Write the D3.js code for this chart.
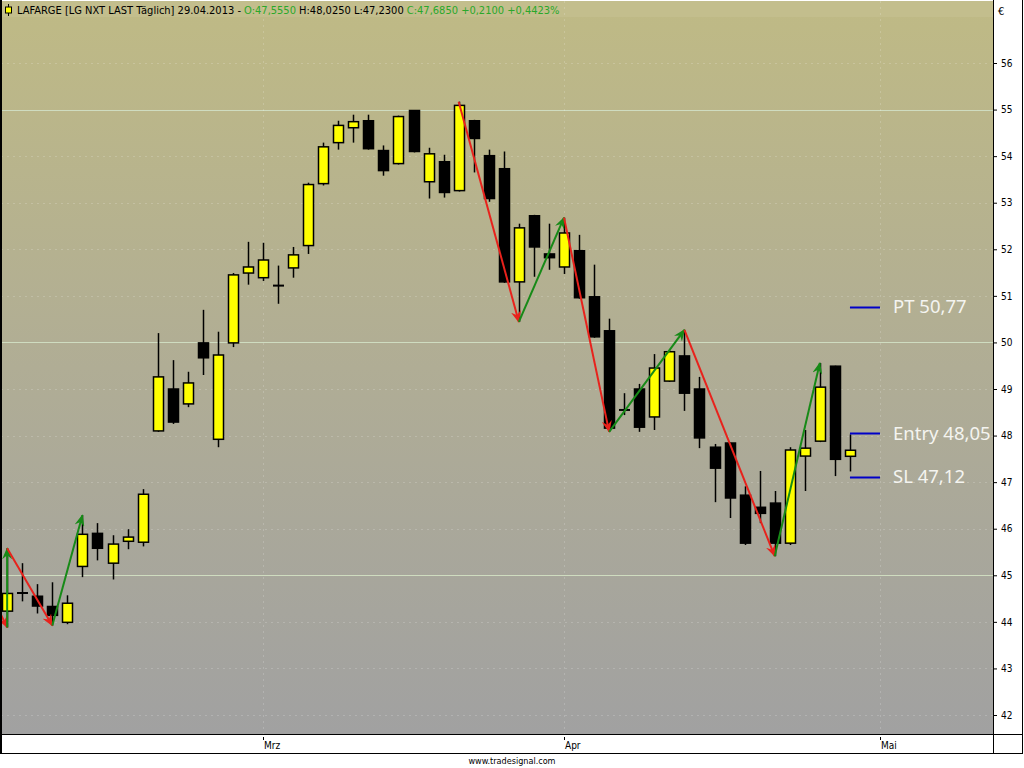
<!DOCTYPE html>
<html>
<head>
<meta charset="utf-8">
<script src="https://cdn.jsdelivr.net/npm/d3@7"></script>
<style>
  body { margin: 0; background: #ffffff; }
  svg { display: block; }
</style>
</head>
<body>
<div id="chart"></div>
<script>
// LAFARGE daily candles, 06.02.2013 - 29.04.2013
var dates = ["06.02","07.02","08.02","11.02","12.02","13.02","14.02","15.02","18.02","19.02",
  "20.02","21.02","22.02","25.02","26.02","27.02","28.02","01.03","04.03","05.03",
  "06.03","07.03","08.03","11.03","12.03","13.03","14.03","15.03","18.03","19.03",
  "20.03","21.03","22.03","25.03","26.03","27.03","28.03","02.04","03.04","04.04",
  "05.04","08.04","09.04","10.04","11.04","12.04","15.04","16.04","17.04","18.04",
  "19.04","22.04","23.04","24.04","25.04","26.04","29.04"];

var open  = [44.23,44.63,44.55,44.33,43.99,45.19,45.90,45.26,45.73,45.71,
  48.10,49.00,48.68,49.99,47.92,49.99,51.49,51.39,51.23,51.60,
  52.08,53.41,54.29,54.61,54.76,54.12,53.84,54.98,53.45,53.88,
  53.26,54.76,54.01,53.73,51.30,52.72,51.90,51.62,51.97,50.98,
  50.25,48.56,49.00,48.40,49.17,49.71,49.00,47.75,47.84,46.72,
  46.46,46.55,45.69,47.56,47.88,49.49,47.555];
var high  = [45.58,45.26,44.81,44.85,44.57,46.29,46.12,45.86,45.99,46.85,
  50.20,49.62,49.37,50.70,50.23,51.49,52.16,52.14,51.65,52.05,
  53.43,54.29,54.76,54.89,54.89,54.23,54.87,54.99,54.18,54.03,
  55.17,54.78,54.14,54.10,52.55,52.74,52.55,52.68,52.31,51.67,
  50.51,48.91,49.11,49.75,49.84,50.27,49.26,47.82,47.85,46.91,
  47.24,46.81,47.75,48.12,49.56,49.50,48.025];
var low   = [43.88,44.44,44.18,43.92,43.95,44.96,45.32,44.91,45.56,45.62,
  48.08,48.25,48.61,49.30,47.75,49.90,51.24,51.32,50.83,51.39,
  51.90,53.37,54.14,54.29,54.14,53.58,53.82,54.08,53.09,53.11,
  53.24,53.65,53.02,51.28,50.44,51.41,51.56,51.47,50.94,50.10,
  48.08,48.44,48.08,48.12,49.15,48.53,47.73,46.57,46.23,45.65,
  46.12,45.41,45.65,46.81,47.86,47.13,47.23];
var close = [44.61,44.61,44.34,44.14,44.40,45.88,45.58,45.67,45.82,46.74,
  49.26,48.29,49.13,49.67,49.73,51.45,51.62,51.77,51.21,51.88,
  53.39,54.20,54.66,54.74,54.16,53.69,54.85,54.10,54.05,53.22,
  55.09,54.38,53.09,51.30,52.46,52.05,51.82,52.35,50.96,50.12,
  48.16,48.54,48.18,49.45,49.80,48.91,47.95,47.30,46.66,45.69,
  46.33,45.69,47.69,47.73,49.04,47.49,47.685];

// zigzag swing points: [bar index, price]; one array per drawn run
var zigzagA = [[-1,44.55],[0,43.88],[0,45.58],[3,43.92],[5,46.29]];
var zigzagB = [[30,55.17],[34,50.44],[37,52.68],[40,48.08],[45,50.27],[51,45.41],[54,49.56]];

// trade levels
var levelNames  = ["PT","Entry","SL"];
var levelValues = [50.77,48.05,47.12];

var priceTicks = [42,43,44,45,46,47,48,49,50,51,52,53,54,55,56];
var majorTicks = [45,50,55];
var monthLabels = ["Mrz","Apr","Mai"];
var monthIndex  = [17,37,58];   // first trading day of each month (Mai = 02.05)

var W = 1024, H = 768;
var plot = { left: 1, right: 993, top: 1, bottom: 734 };

var svg = d3.select("#chart").append("svg")
  .attr("width", W).attr("height", H)
  .style("font-family", "Tahoma, 'DejaVu Sans', sans-serif");

var defs = svg.append("defs");
var grad = defs.append("linearGradient").attr("id", "bg")
  .attr("x1", 0).attr("y1", 0).attr("x2", 0).attr("y2", 1);
grad.append("stop").attr("offset", "0%").attr("stop-color", "#bfba85");
grad.append("stop").attr("offset", "50%").attr("stop-color", "#b0ad95");
grad.append("stop").attr("offset", "100%").attr("stop-color", "#a1a1a1");

defs.append("clipPath").attr("id", "clip").append("rect")
  .attr("x", plot.left).attr("y", plot.top)
  .attr("width", plot.right - plot.left).attr("height", plot.bottom - plot.top);

function marker(id, col) {
  defs.append("marker").attr("id", id)
    .attr("viewBox", "0 0 12 10").attr("refX", 11).attr("refY", 5)
    .attr("markerWidth", 12).attr("markerHeight", 10)
    .attr("markerUnits", "userSpaceOnUse").attr("orient", "auto")
    .append("path").attr("d", "M0,0 L12,5 L0,10 L4,5 Z").attr("fill", col);
}
marker("arrUp", "#178a17");
marker("arrDn", "#e8221c");

var x = d3.scaleLinear().domain([0, 56]).range([7.15, 7.15 + 56 * 15.05]);
var y = d3.scaleLinear().domain([42, 56]).range([715, 63]);

// background
svg.append("rect").attr("x", 0).attr("y", 0).attr("width", W).attr("height", H).attr("fill", "#ffffff");
svg.append("rect").attr("x", plot.left).attr("y", plot.top)
  .attr("width", plot.right - plot.left).attr("height", plot.bottom - plot.top)
  .attr("fill", "url(#bg)");
svg.append("rect").attr("x", plot.left).attr("y", plot.top)
  .attr("width", plot.right - plot.left).attr("height", 16)
  .attr("fill", "#c6c192").attr("opacity", 0.6);

var g = svg.append("g").attr("clip-path", "url(#clip)");

// grid
g.selectAll(".hgrid").data(priceTicks).enter().append("line")
  .attr("x1", plot.left).attr("x2", plot.right)
  .attr("y1", function(d) { return Math.round(y(d)) + 0.5; })
  .attr("y2", function(d) { return Math.round(y(d)) + 0.5; })
  .attr("stroke", function(d) { return majorTicks.indexOf(d) >= 0 ? "#cfdcc0" : "#ffffff"; })
  .attr("stroke-opacity", function(d) { return majorTicks.indexOf(d) >= 0 ? 1 : 0.18; })
  .attr("stroke-width", 1)
  .attr("stroke-dasharray", function(d) { return majorTicks.indexOf(d) >= 0 ? null : "2,4"; });

g.selectAll(".vgrid").data(monthIndex).enter().append("line")
  .attr("x1", function(d) { return Math.round(x(d)) + 0.5; })
  .attr("x2", function(d) { return Math.round(x(d)) + 0.5; })
  .attr("y1", plot.top).attr("y2", plot.bottom)
  .attr("stroke", "#ffffff").attr("stroke-opacity", 0.18).attr("stroke-dasharray", "2,4");

// candles
var bars = d3.range(dates.length);
var bw = 10;

g.selectAll(".wick").data(bars).enter().append("line")
  .attr("x1", function(i) { return Math.round(x(i)) + 0.5; })
  .attr("x2", function(i) { return Math.round(x(i)) + 0.5; })
  .attr("y1", function(i) { return y(high[i]); })
  .attr("y2", function(i) { return y(low[i]); })
  .attr("stroke", "#000").attr("stroke-width", 1.5);

g.selectAll(".body").data(bars.filter(function(i) { return Math.abs(open[i] - close[i]) > 0.03; }))
  .enter().append("rect")
  .attr("x", function(i) { return Math.round(x(i)) - bw / 2 + 0.5; })
  .attr("y", function(i) { return y(Math.max(open[i], close[i])); })
  .attr("width", bw)
  .attr("height", function(i) { return Math.abs(y(open[i]) - y(close[i])); })
  .attr("fill", function(i) { return close[i] >= open[i] ? "#ffff00" : "#000000"; })
  .attr("stroke", "#000").attr("stroke-width", 1.5);

g.selectAll(".doji").data(bars.filter(function(i) { return Math.abs(open[i] - close[i]) <= 0.03; }))
  .enter().append("line")
  .attr("x1", function(i) { return Math.round(x(i)) - bw / 2; })
  .attr("x2", function(i) { return Math.round(x(i)) + bw / 2 + 1; })
  .attr("y1", function(i) { return y((open[i] + close[i]) / 2); })
  .attr("y2", function(i) { return y((open[i] + close[i]) / 2); })
  .attr("stroke", "#000").attr("stroke-width", 2);

// zigzag arrows
function legs(pts) {
  var out = [];
  for (var k = 1; k < pts.length; k++) out.push([pts[k - 1], pts[k]]);
  return out;
}
var allLegs = legs(zigzagA).concat(legs(zigzagB));
g.selectAll(".leg").data(allLegs).enter().append("line")
  .attr("x1", function(d) { return x(d[0][0]); })
  .attr("y1", function(d) { return y(d[0][1]); })
  .attr("x2", function(d) { return x(d[1][0]); })
  .attr("y2", function(d) { return y(d[1][1]); })
  .attr("stroke", function(d) { return d[1][1] > d[0][1] ? "#178a17" : "#e8221c"; })
  .attr("stroke-width", 2)
  .attr("marker-end", function(d) { return d[1][1] > d[0][1] ? "url(#arrUp)" : "url(#arrDn)"; });

// trade levels
var last = dates.length - 1;
g.selectAll(".lvl").data(levelValues).enter().append("line")
  .attr("x1", x(last)).attr("x2", x(last + 2))
  .attr("y1", function(d) { return Math.round(y(d)) + 0.5; })
  .attr("y2", function(d) { return Math.round(y(d)) + 0.5; })
  .attr("stroke", "#0000c8").attr("stroke-width", 2);

g.selectAll(".lvlTxt").data(levelValues).enter().append("text")
  .attr("x", x(last + 2) + 13)
  .attr("y", function(d) { return y(d); })
  .attr("dy", "0.35em")
  .attr("fill", "#f4f4f0")
  .style("font-family", "'Noto Sans', sans-serif")
  .style("font-size", "18.5px")
  .text(function(d, i) { return levelNames[i] + " " + d3.format(".2f")(d).replace(".", ","); });

// right price axis
svg.append("rect").attr("x", plot.right).attr("y", 0).attr("width", W - plot.right - 1).attr("height", plot.bottom)
  .attr("fill", "#ffffff");
svg.append("line").attr("x1", plot.right + 0.5).attr("x2", plot.right + 0.5)
  .attr("y1", 0).attr("y2", 754).attr("stroke", "#000");

var yAxis = d3.axisRight(y).tickValues(priceTicks).tickSize(3).tickPadding(4).tickFormat(d3.format("d"));
var ya = svg.append("g").attr("transform", "translate(" + (plot.right + 1) + ",0)").call(yAxis);
ya.select(".domain").remove();
ya.selectAll("text").style("font-family", "'DejaVu Sans Condensed', 'DejaVu Sans', sans-serif")
  .style("font-size", "10px").attr("fill", "#000");
svg.append("text").attr("x", 998).attr("y", 15).text("€")
  .style("font-family", "'DejaVu Sans', sans-serif").style("font-size", "10px");

// bottom time axis
svg.append("line").attr("x1", 0).attr("x2", W - 1).attr("y1", plot.bottom + 0.5).attr("y2", plot.bottom + 0.5).attr("stroke", "#000");
svg.append("line").attr("x1", 0).attr("x2", W - 1).attr("y1", 753.5).attr("y2", 753.5).attr("stroke", "#000");
svg.append("line").attr("x1", W - 1.5).attr("x2", W - 1.5).attr("y1", 0).attr("y2", 754).attr("stroke", "#000");
svg.append("rect").attr("x", 0).attr("y", 0).attr("width", 2).attr("height", 754).attr("fill", "#000");

var xa = svg.append("g");
xa.selectAll(".mt").data(monthIndex).enter().append("line")
  .attr("x1", function(d) { return Math.round(x(d)) + 0.5; })
  .attr("x2", function(d) { return Math.round(x(d)) + 0.5; })
  .attr("y1", plot.bottom + 3).attr("y2", plot.bottom + 6).attr("stroke", "#000");
xa.selectAll(".ml").data(monthIndex).enter().append("text")
  .attr("x", function(d) { return Math.round(x(d)) + 1; })
  .attr("y", plot.bottom + 15)
  .style("font-family", "'DejaVu Sans Condensed', 'DejaVu Sans', sans-serif")
  .style("font-size", "10px")
  .text(function(d, i) { return monthLabels[i]; });

svg.append("text").attr("x", W / 2).attr("y", 764).attr("text-anchor", "middle")
  .style("font-family", "'DejaVu Sans Condensed', 'DejaVu Sans', sans-serif")
  .style("font-size", "9px")
  .text("www.tradesignal.com");

// title with small candle icon
var icon = svg.append("g").attr("transform", "translate(8,10)");
icon.append("line").attr("x1", 0.5).attr("x2", 0.5).attr("y1", -6).attr("y2", 6).attr("stroke", "#000");
icon.append("rect").attr("x", -2.5).attr("y", -3).attr("width", 6).attr("height", 6)
  .attr("fill", "#ffff00").attr("stroke", "#000");

var title = svg.append("text").attr("x", 17).attr("y", 14)
  .style("font-family", "Tahoma, 'DejaVu Sans Condensed', 'DejaVu Sans', sans-serif")
  .style("font-size", "11px");
var parts = [
  ["LAFARGE [LG NXT LAST Täglich] 29.04.2013 - ", "#000"],
  ["O:47,5550 ", "#2aa82a"],
  ["H:48,0250 L:47,2300 ", "#000"],
  ["C:47,6850 +0,2100 +0,4423%", "#2aa82a"]
];
title.selectAll("tspan").data(parts).enter().append("tspan")
  .attr("fill", function(d) { return d[1]; })
  .text(function(d) { return d[0]; });
</script>
</body>
</html>
